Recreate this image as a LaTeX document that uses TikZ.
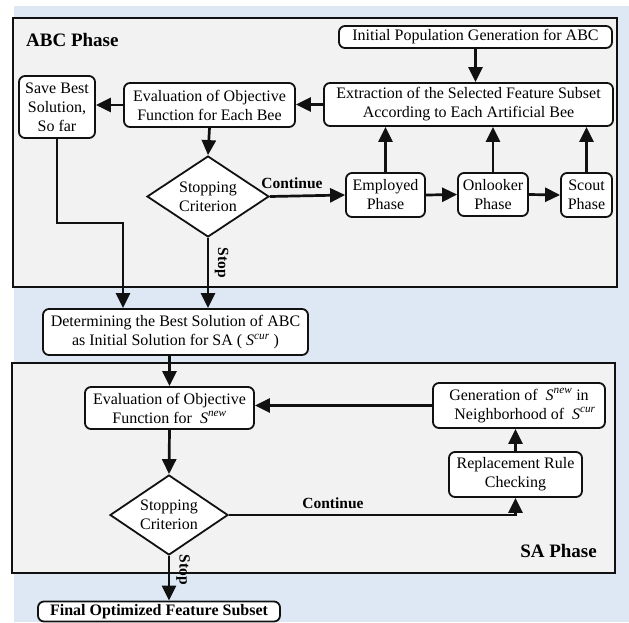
\documentclass[tikz,border=0pt]{standalone}
\usepackage{fontspec}
\setmainfont{Liberation Serif}
\usetikzlibrary{arrows.meta,shapes.geometric}
\definecolor{bgblue}{HTML}{DEE8F4}
\definecolor{phasegray}{HTML}{F2F2F2}
\definecolor{linec}{HTML}{111111}
\newcommand{\Smath}[1]{$\mathit{S}^{\mathit{#1}}$}
\begin{document}
\begin{tikzpicture}[x=1pt,y=-1pt,
  box/.style={draw=linec,line width=1.8pt,rounded corners=6pt,fill=white,align=center,
    inner sep=1pt,font=\fontsize{16}{19}\selectfont},
  dia/.style={draw=linec,line width=1.8pt,shape=diamond,fill=white,align=center,
    inner sep=0pt,aspect=1.5,font=\fontsize{16}{19}\selectfont},
  phase/.style={draw=linec,line width=1.6pt,fill=phasegray},
  arr/.style={draw=linec,line width=2.7pt,-{Triangle[length=15pt,width=14pt]}},
  lbl/.style={font=\bfseries\fontsize{15.5}{17}\selectfont,inner sep=0pt},
  ttl/.style={font=\bfseries\fontsize{19}{21}\selectfont,inner sep=0pt}]
\useasboundingbox (0,0) rectangle (629,622);
\fill[bgblue] (14,6) rectangle (629,622);
\path[phase] (13,18) rectangle (617,287);
\path[phase] (12,363) rectangle (615,573);
\node[ttl,anchor=west] (tabc) at (26,40) {ABC Phase};
\node[ttl,anchor=east] (tsa) at (597,551) {SA Phase};

% ABC nodes
\node[box,minimum width=273pt,minimum height=22pt] (init) at (475.5,37) {Initial Population Generation for ABC};
\node[box,minimum width=289pt,minimum height=43pt] (extr) at (468.5,104.5) {Extraction of the Selected Feature Subset\\According to Each Artificial Bee};
\node[box,minimum width=171pt,minimum height=44pt] (evalA) at (209.5,105) {Evaluation of Objective\\Function for Each Bee};
\node[box,minimum width=76pt,minimum height=62pt] (save) at (57,107) {Save Best\\Solution,\\So far};
\node[dia,minimum width=122pt,minimum height=81pt] (diaA) at (208,196.5) {Stopping\\Criterion};
\node[box,minimum width=79pt,minimum height=44pt] (emp) at (385.5,195) {Employed\\Phase};
\node[box,minimum width=70pt,minimum height=43pt,inner sep=0pt] (onl) at (493,194.5) {Onlooker\\Phase};
\node[box,minimum width=51pt,minimum height=44pt] (sco) at (586.5,195) {Scout\\Phase};

% middle
\node[box,minimum width=265pt,minimum height=46pt] (det) at (175.5,332) {Determining the Best Solution of ABC\\as Initial Solution for SA ( \Smath{cur} )};

% SA nodes
\node[box,minimum width=169pt,minimum height=42pt] (evalS) at (169.5,408) {Evaluation of Objective\\Function for \ \Smath{new}};
\node[dia,minimum width=118pt,minimum height=80pt] (diaS) at (169,515) {Stopping\\Criterion};
\node[box,minimum width=172pt,minimum height=45pt] (gen) at (519,405.5) {Generation of \ \Smath{new} in\\\ \ \ Neighborhood of \ \Smath{cur}};
\node[box,minimum width=133pt,minimum height=45pt] (rep) at (515.5,474.5) {Replacement Rule\\Checking};
\node[box,minimum width=242pt,minimum height=20pt,inner sep=0pt,font=\bfseries\fontsize{16}{18}\selectfont] (fin) at (159,611.5) {Final Optimized Feature Subset};

\coordinate (j1) at (123,223);

% labels
\node[lbl] (lc1) at (292,183) {Continue};
\node[lbl,rotate=-90] (ls1) at (221.5,263) {Stop};
\node[lbl] (lc2) at (333,503) {Continue};
\node[lbl,rotate=-90] (ls2) at (183,570) {Stop};

% ABC connectors
\draw[arr] (init.south) -- (init.south |- extr.north);
\draw[arr] (extr.west) -- (extr.west -| evalA.east);
\draw[arr] (evalA.west) -- (evalA.west -| save.east);
\draw[arr] (evalA.south) -- (diaA.north);
\draw[arr] (diaA.east) -- (emp.west);
\draw[arr] (emp.east) -- (onl.west);
\draw[arr] (onl.east) -- (sco.west);
\draw[arr] (emp.north) -- (emp.north |- extr.south);
\draw[arr] (onl.north) -- (onl.north |- extr.south);
\draw[arr] (sco.north) -- (sco.north |- extr.south);
\draw[arr] (save.south) |- (j1) -- (j1 |- det.north);
\draw[arr] (diaA.south) -- (diaA.south |- det.north);

% SA connectors
\draw[arr] (evalS.north |- det.south) -- (evalS.north);
\draw[arr] (evalS.south) -- (diaS.north);
\draw[arr] (diaS.south) -- (diaS.south |- fin.north);
\draw[arr] (diaS.east) -| (rep.south);
\draw[arr] (rep.north) -- (rep.north |- gen.south);
\draw[arr] (gen.west) -- (gen.west -| evalS.east);
\end{tikzpicture}
\end{document}
